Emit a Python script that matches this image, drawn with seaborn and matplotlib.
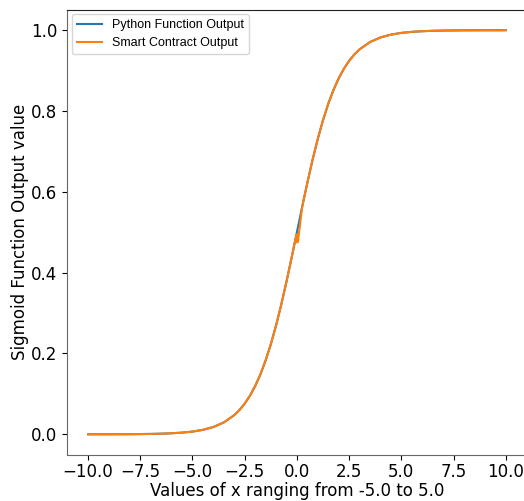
import matplotlib
matplotlib.use("Agg")
import matplotlib.pyplot as plt
import seaborn as sns
import pandas as pd

x_python = [-10, -9.5, -9, -8.5, -8, -7.5, -7, -6.5, -6, -5.5, -5, -4.5, -4, -3.5, -3,
            -2.75, -2.5, -2.25, -2, -1.75, -1.5, -1.25, -1, -0.75, -0.5, -0.25, 0,
            0.25, 0.5, 0.75, 1, 1.25, 1.5, 1.75, 2, 2.25, 2.5, 2.75, 3,
            3.5, 4, 4.5, 5, 5.5, 6, 6.5, 7, 7.5, 8, 8.5, 9, 9.5, 10]
y_python = [0.0000, 0.0001, 0.0001, 0.0002, 0.0003, 0.0006, 0.0009, 0.0015, 0.0025, 0.0041,
            0.0067, 0.0110, 0.0180, 0.0293, 0.0474, 0.0601, 0.0759, 0.0953, 0.1192, 0.1480,
            0.1824, 0.2227, 0.2689, 0.3208, 0.3775, 0.4378, 0.5000, 0.5622, 0.6225, 0.6792,
            0.7311, 0.7773, 0.8176, 0.8520, 0.8808, 0.9047, 0.9241, 0.9399, 0.9526, 0.9707,
            0.9820, 0.9890, 0.9933, 0.9959, 0.9975, 0.9985, 0.9991, 0.9994, 0.9997, 0.9998,
            0.9999, 0.9999, 1.0000]

x_contract = [-10, -9.5, -9, -8.5, -8, -7.5, -7, -6.5, -6, -5.5, -5, -4.5, -4, -3.5, -3,
              -2.75, -2.5, -2.25, -2, -1.75, -1.5, -1.25, -1, -0.75, -0.5, -0.25, -0.02, 0.0, 0.05,
              0.25, 0.5, 0.75, 1, 1.25, 1.5, 1.75, 2, 2.25, 2.5, 2.75, 3,
              3.5, 4, 4.5, 5, 5.5, 6, 6.5, 7, 7.5, 8, 8.5, 9, 9.5, 10]
y_contract = [0.0000, 0.0001, 0.0001, 0.0002, 0.0003, 0.0006, 0.0009, 0.0015, 0.0025, 0.0041,
              0.0067, 0.0110, 0.0180, 0.0293, 0.0474, 0.0601, 0.0759, 0.0953, 0.1192, 0.1480,
              0.1824, 0.2227, 0.2689, 0.3208, 0.3775, 0.4378, 0.4950, 0.4750, 0.4760, 0.5622,
              0.6225, 0.6792, 0.7311, 0.7773, 0.8176, 0.8520, 0.8808, 0.9047, 0.9241, 0.9399,
              0.9526, 0.9707, 0.9820, 0.9890, 0.9933, 0.9959, 0.9975, 0.9985, 0.9991, 0.9994,
              0.9997, 0.9998, 0.9999, 0.9999, 1.0000]

label_python = "Python Function Output"
label_contract = "Smart Contract Output"
xlabel = "Values of x ranging from -5.0 to 5.0"
ylabel = "Sigmoid Function Output value"

df_p = pd.DataFrame({"x": x_python, "y": y_python})
df_c = pd.DataFrame({"x": x_contract, "y": y_contract})

W, H = 524, 501
fig = plt.figure(figsize=(W / 100, H / 100), dpi=100)
left, right, top, bottom = 67.2, 526.6, 10.0, 454.5
ax = fig.add_axes([left / W, 1 - bottom / H, (right - left) / W, (bottom - top) / H])

sns.lineplot(data=df_p, x="x", y="y", ax=ax, color="#1f77b4", label=label_python, linewidth=1.5)
sns.lineplot(data=df_c, x="x", y="y", ax=ax, color="#ff7f0e", label=label_contract, linewidth=1.5)

ax.set_xticks([-10, -7.5, -5, -2.5, 0, 2.5, 5, 7.5, 10])
ax.set_yticks([0.0, 0.2, 0.4, 0.6, 0.8, 1.0])
ax.tick_params(labelsize=12, colors="black")
ax.tick_params(axis="x", pad=2.5)
ax.set_xlabel(xlabel, fontsize=12, labelpad=1)
ax.set_ylabel(ylabel, fontsize=12, labelpad=1.5)
for s in ax.spines.values():
    s.set_color("#666666")
ax.spines["top"].set_color("#222222")

leg = ax.legend(loc="upper left", prop={"family": "Liberation Sans", "size": 9},
                borderaxespad=0.35, handlelength=2.0, labelspacing=0.45)

fig.savefig("out.png", dpi=100)
